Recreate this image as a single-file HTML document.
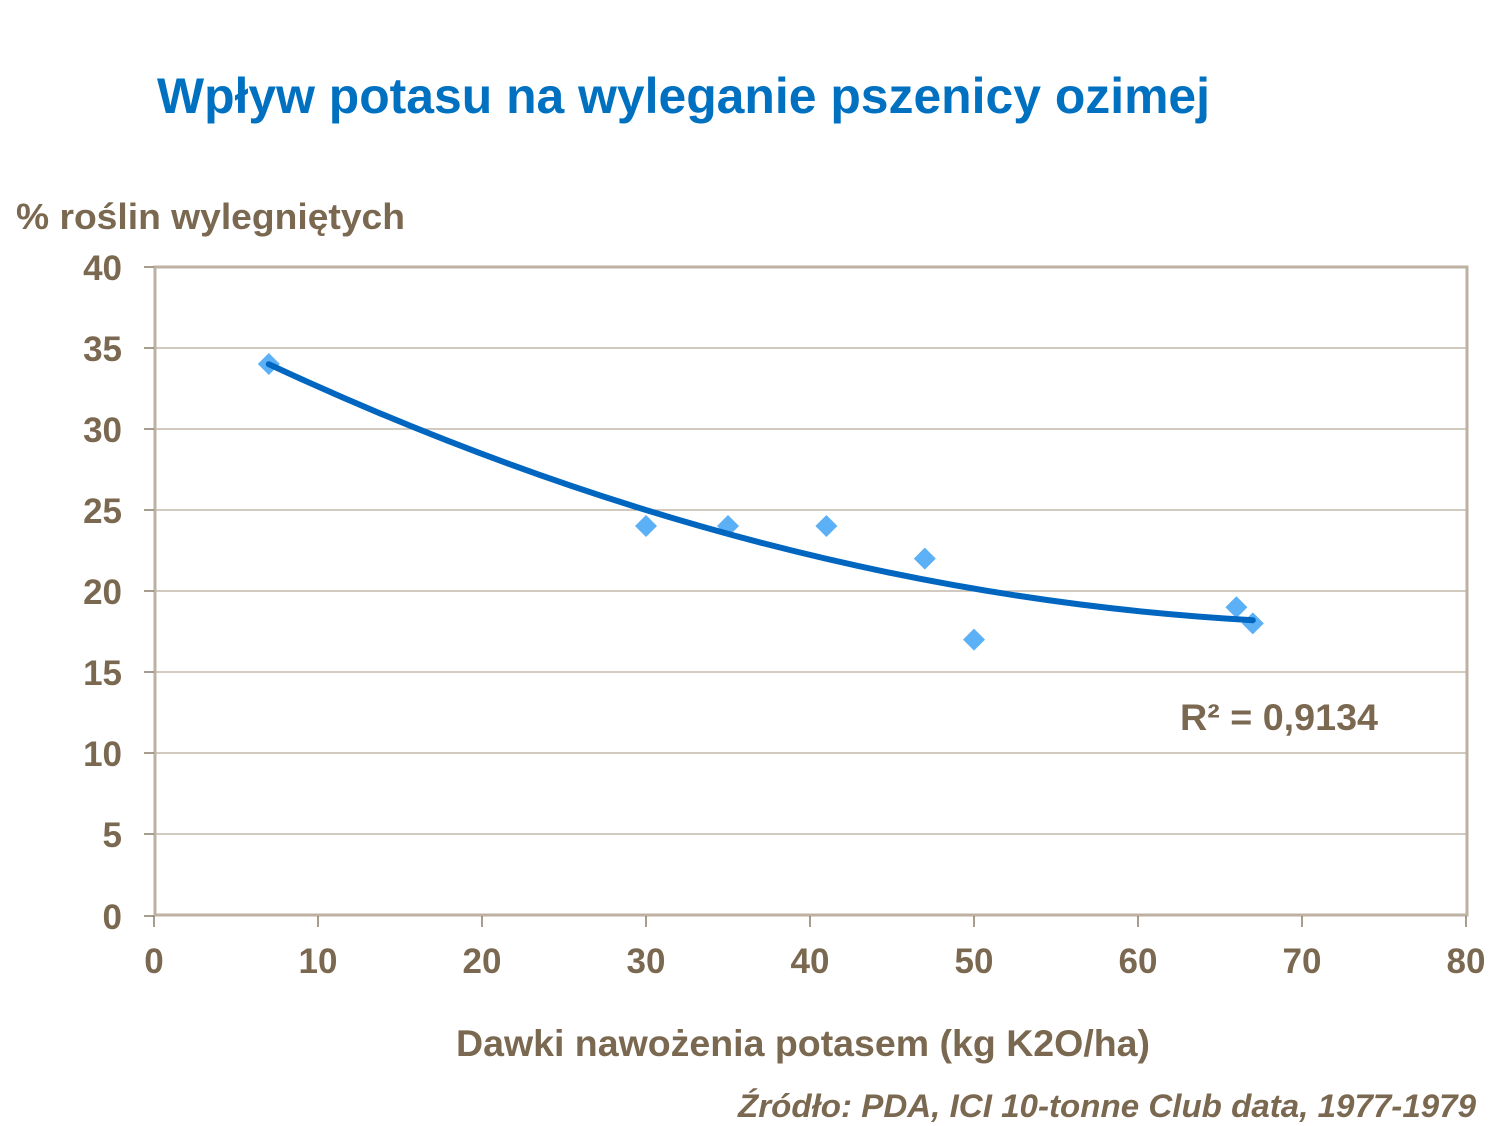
<!DOCTYPE html>
<html><head><meta charset="utf-8"><style>
body{margin:0;background:#fff;}
svg{display:block;font-family:"Liberation Sans",sans-serif;font-weight:bold;}
</style></head><body>
<svg width="1500" height="1126" viewBox="0 0 1500 1126">
<text x="157" y="113" font-size="50" fill="#0070C0" textLength="1053" lengthAdjust="spacingAndGlyphs">Wpływ potasu na wyleganie pszenicy ozimej</text>
<text x="16" y="229" font-size="36" fill="#7A6850" textLength="389" lengthAdjust="spacingAndGlyphs">% roślin wylegniętych</text>
<g stroke="#B8AA98" stroke-width="1.3">
<line x1="154" y1="348" x2="1467" y2="348"/>
<line x1="154" y1="429" x2="1467" y2="429"/>
<line x1="154" y1="510" x2="1467" y2="510"/>
<line x1="154" y1="591" x2="1467" y2="591"/>
<line x1="154" y1="672" x2="1467" y2="672"/>
<line x1="154" y1="753" x2="1467" y2="753"/>
<line x1="154" y1="834" x2="1467" y2="834"/>
</g>
<rect x="155" y="267" width="1312" height="648" fill="none" stroke="#BDB1A3" stroke-width="3"/>
<g stroke="#7A6850" stroke-width="1.3">
<line x1="144" y1="267" x2="154" y2="267"/><line x1="144" y1="348" x2="154" y2="348"/>
<line x1="144" y1="429" x2="154" y2="429"/><line x1="144" y1="510" x2="154" y2="510"/>
<line x1="144" y1="591" x2="154" y2="591"/><line x1="144" y1="672" x2="154" y2="672"/>
<line x1="144" y1="753" x2="154" y2="753"/><line x1="144" y1="834" x2="154" y2="834"/>
<line x1="144" y1="916" x2="154" y2="916"/>
<line x1="154" y1="916" x2="154" y2="927"/><line x1="318" y1="916" x2="318" y2="927"/>
<line x1="482" y1="916" x2="482" y2="927"/><line x1="646" y1="916" x2="646" y2="927"/>
<line x1="810" y1="916" x2="810" y2="927"/><line x1="974" y1="916" x2="974" y2="927"/>
<line x1="1138" y1="916" x2="1138" y2="927"/><line x1="1302" y1="916" x2="1302" y2="927"/>
<line x1="1466" y1="916" x2="1466" y2="927"/>
</g>
<g font-size="35" fill="#7A6850" text-anchor="end">
<text x="122" y="280">40</text><text x="122" y="361">35</text><text x="122" y="442">30</text>
<text x="122" y="523">25</text><text x="122" y="604">20</text><text x="122" y="685">15</text>
<text x="122" y="766">10</text><text x="122" y="847">5</text><text x="122" y="929">0</text>
</g>
<g font-size="35" fill="#7A6850" text-anchor="middle">
<text x="154" y="973">0</text><text x="318" y="973">10</text><text x="482" y="973">20</text>
<text x="646" y="973">30</text><text x="810" y="973">40</text><text x="974" y="973">50</text>
<text x="1138" y="973">60</text><text x="1302" y="973">70</text><text x="1466" y="973">80</text>
</g>
<text x="456" y="1056" font-size="37" fill="#7A6850" textLength="694" lengthAdjust="spacingAndGlyphs">Dawki nawożenia potasem (kg K2O/ha)</text>
<g fill="#5CB0F5">
<path d="M268.8 353 l11 11 l-11 11 l-11 -11z"/>
<path d="M646 515 l11 11 l-11 11 l-11 -11z"/>
<path d="M728 515 l11 11 l-11 11 l-11 -11z"/>
<path d="M826.4 515 l11 11 l-11 11 l-11 -11z"/>
<path d="M924.8 547.6 l11 11 l-11 11 l-11 -11z"/>
<path d="M974 628.6 l11 11 l-11 11 l-11 -11z"/>
<path d="M1236.4 596.2 l11 11 l-11 11 l-11 -11z"/>
<path d="M1252.8 612.4 l11 11 l-11 11 l-11 -11z"/>
</g>
<path d="M268.8 364.2 Q760.8 593.1 1252.8 620.2" fill="none" stroke="#0066C0" stroke-width="6" stroke-linecap="round"/>
<text x="1180" y="730" font-size="37" fill="#7A6850" textLength="198" lengthAdjust="spacingAndGlyphs">R² = 0,9134</text>
<text x="738" y="1117" font-size="32" font-style="italic" fill="#7A6850" textLength="738" lengthAdjust="spacingAndGlyphs">Źródło: PDA, ICI 10-tonne Club data, 1977-1979</text>
</svg>
</body></html>
